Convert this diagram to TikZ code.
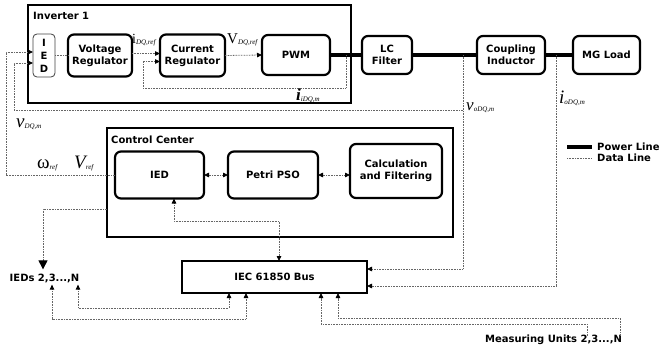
\documentclass[tikz,border=0pt]{standalone}
\usepackage{fontspec}
\setmainfont{DejaVu Sans}
\newfontfamily\tms{Liberation Serif}
\usetikzlibrary{arrows.meta,calc}

% math-like labels: main symbol plus a lowered italic subscript
\newcommand{\sym}[3]{{\tms\fontsize{#1}{#1}\selectfont #2}\raisebox{-1.6pt}{\tms\itshape\fontsize{7}{7}\selectfont #3}}

\tikzset{
  blk/.style={draw, line width=2.2pt, rounded corners=6pt, align=center,
    font=\bfseries\fontsize{10}{12}\selectfont, inner sep=0pt, outer sep=0pt},
  thinblk/.style={blk, line width=0.8pt, draw=black!75, rounded corners=4pt,
    font=\bfseries\fontsize{10}{13}\selectfont},
  frame/.style={draw, line width=2.6pt, inner sep=0pt, outer sep=0pt,
    font=\bfseries\fontsize{10}{12}\selectfont},
  title/.style={font=\bfseries\fontsize{10}{12}\selectfont, inner sep=0pt},
  power/.style={line width=3.6pt},
  data/.style={draw=black!60, line width=0.8pt, dash pattern=on 0.8pt off 0.8pt},
  lab/.style={inner sep=0pt, anchor=base west}
}

\begin{document}
\begin{tikzpicture}[x=1pt,y=-1pt,>={Triangle[length=5pt,width=4.5pt,color=black]}]
\useasboundingbox (0,0) rectangle (661,356);

% ---------- inverter ----------
\node[frame, minimum width=323pt, minimum height=98pt] (inv) at (189.5,54) {};
\node[title, anchor=west] (invt) at (33,15.5) {Inverter 1};

\node[thinblk, minimum width=22pt, minimum height=43pt] (iied) at (44,55.5) {I\\E\\D};
\node[blk, minimum width=64pt, minimum height=42pt] (vr) at (100,55.5) {Voltage\\Regulator};
\node[blk, minimum width=65pt, minimum height=42pt] (cr) at (192.5,55.5) {Current\\Regulator};
\node[blk, minimum width=68pt, minimum height=40pt] (pwm) at (296,55) {PWM};

% ---------- power path ----------
\node[blk, minimum width=50pt, minimum height=38pt] (lc) at (387,55) {LC\\Filter};
\node[blk, minimum width=68pt, minimum height=38pt] (ci) at (511,55) {Coupling\\Inductor};
\node[blk, minimum width=67pt, minimum height=38pt] (mg) at (606.5,55) {MG Load};

\draw[power] (pwm.east) -- (lc.west) (lc.east) -- (ci.west) (ci.east) -- (mg.west);

% ---------- control center ----------
\node[frame, minimum width=346pt, minimum height=109pt] (cc) at (280,182.5) {};
\node[title, anchor=west] (cct) at (111,140) {Control Center};
\node[blk, minimum width=89pt, minimum height=47pt] (cied) at (159.5,175) {IED};
\node[blk, minimum width=90pt, minimum height=47pt] (pso) at (273,175) {Petri PSO};
\node[blk, minimum width=92pt, minimum height=54pt] (calc) at (396,171) {Calculation\\and Filtering};

% ---------- bus and remote units ----------
\node[frame, minimum width=185pt, minimum height=32pt] (bus) at (274.5,277) {IEC 61850 Bus};
\node[title] (ieds) at (44.5,278) {IEDs 2,3...,N};
\node[title] (mu) at (553.5,340) {Measuring Units 2,3...,N};

% ---------- tap points on the power line ----------
\coordinate (ftap) at (346,55);
\coordinate (vtap) at (463,55);
\coordinate (itap) at (556,55);
\coordinate (fb) at (143,88);
\coordinate (vb) at (463,110);
\coordinate (vl) at (14,110);
\coordinate (wl) at (6,175);
\coordinate (cb) at (279,221);

% ---------- data lines inside the inverter ----------
\draw[data] (iied.east) -- (vr.east -| vr.west);
\draw[data,->] ([yshift=2pt]vr.east) -- ([yshift=2pt]cr.west);
\draw[data,->] (cr.east) -- (pwm.west);
\draw[data,->] (ftap) |- (fb) |- ([yshift=-6pt]cr.west);

% ---------- measurements and references ----------
\draw[data,->] (cied.west) -- (wl) |- ([yshift=3.5pt]iied.west);
\draw[data,->] (vb) -- (vl) |- ([yshift=-7.5pt]iied.west);
\draw[data,->] (vtap) |- ([yshift=8pt]bus.east);
\draw[data,->] (itap) |- ([yshift=-9pt]bus.east);

% ---------- control center links ----------
\draw[data,<->] (cied.east) -- (pso.west);
\draw[data,<->] (pso.east) -- (pso.east -| calc.west);
\draw[data,<->] ([xshift=14.5pt]cied.south) |- (cb) -- ([xshift=4.5pt]bus.north);
\draw[data,-{Triangle[length=9pt,width=9pt,color=black]}]
  ([yshift=-26.5pt]cc.west) -| ([xshift=-1.5pt,yshift=4pt]ieds.north);

% ---------- links to remote IEDs ----------
\draw[data,<->] ([xshift=33.5pt,yshift=-2pt]ieds.south) |- (229,308) -- ([xshift=-45.5pt]bus.south);
\draw[data,<->] ([xshift=7.5pt,yshift=-2pt]ieds.south) |- (246,319) -- ([xshift=-28.5pt]bus.south);

% ---------- links to measuring units ----------
\draw[data,->] ([xshift=33.5pt,yshift=-1pt]mu.north) |- (321,324) -- ([xshift=46.5pt]bus.south);
\draw[data,->] ([xshift=66.5pt,yshift=-1pt]mu.north) |- (338,318) -- ([xshift=63.5pt]bus.south);

% ---------- signal labels ----------
\node[lab] (lidref) at (132,43) {\sym{14}{i}{DQ,ref}};
\node[lab] (lvdqref) at (227,43) {\sym{15}{V}{DQ,ref}};
\node[lab] (lidqm) at (296,100) {\sym{17}{\itshape\bfseries i}{iDQ,m}};
\node[lab] (lvodq) at (466,110) {\sym{17}{\itshape v}{oDQ,m}};
\node[lab] (liodq) at (559,103) {\sym{19}{\itshape i}{oDQ,m}};
\node[lab] (lvdqm) at (16,127) {\sym{19}{\itshape v}{DQ,m}};
\node[lab] (lw) at (37,168) {\sym{19}{ω}{ref}};
\node[lab] (lvref) at (74,168) {\sym{19}{\itshape V}{ref}};

% ---------- legend ----------
\node[title, anchor=west] (lp) at (597,147) {Power Line};
\node[title, anchor=west] (ld) at (597,158) {Data Line};
\draw[power] ([xshift=-30pt]lp.west) -- ([xshift=-5pt]lp.west);
\draw[data] ([xshift=-30pt]ld.west) -- ([xshift=-5pt]ld.west);
\end{tikzpicture}
\end{document}
